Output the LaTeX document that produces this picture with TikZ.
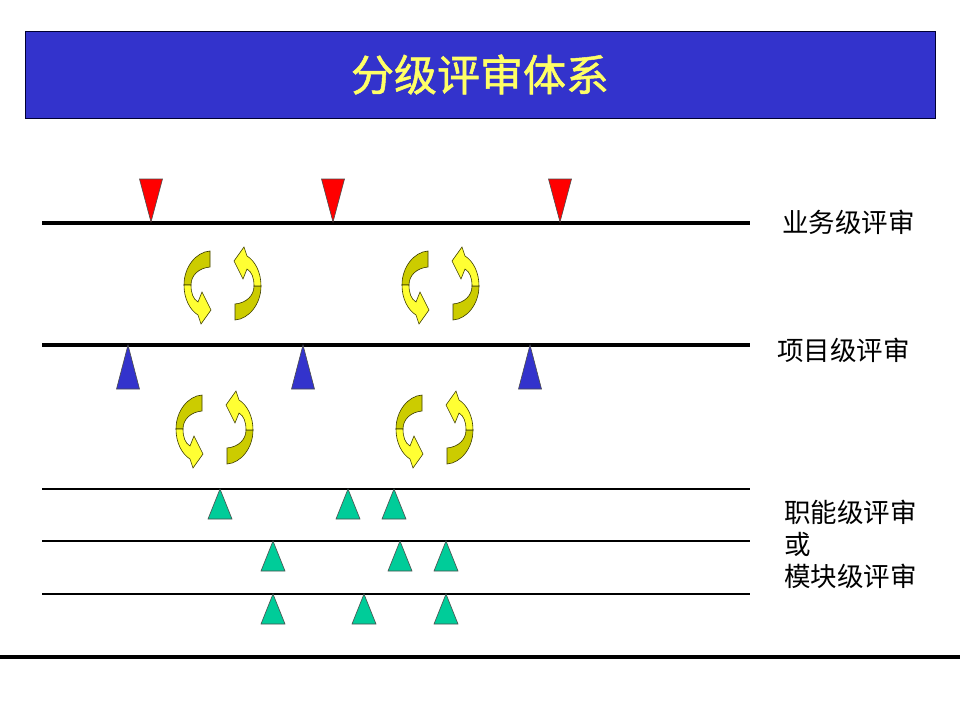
\documentclass[tikz,border=0pt]{standalone}
\usepackage{fontspec}
\setmainfont{Noto Sans CJK SC}
\newfontfamily\titlefont[FakeBold=1.2]{Noto Sans CJK SC}
\definecolor{titleblue}{RGB}{51,51,204}
\definecolor{titleyellow}{RGB}{255,255,102}
\definecolor{markgreen}{RGB}{0,204,153}
\definecolor{turnlight}{RGB}{255,255,51}
\definecolor{turndark}{RGB}{204,204,0}
\definecolor{turnedge}{RGB}{60,60,0}
\tikzset{
  reviewline/.style={line width=4pt},
  subline/.style={line width=1.6pt},
  levellabel/.style={anchor=west, inner sep=0pt, font=\fontsize{26.5}{32}\selectfont, align=left},
  redmark/.pic={\draw[fill=red, draw=black!70, line width=0.6pt] (-11.5,-43) -- (11.5,-43) -- (0,0) -- cycle;},
  bluemark/.pic={\draw[fill=titleblue, draw=black!70, line width=0.6pt] (-11.5,44) -- (11.5,44) -- (0,0) -- cycle;},
  greenmark/.pic={\draw[fill=markgreen, draw=black!70, line width=0.6pt] (-12,30) -- (12,30) -- (0,0) -- cycle;},
  turn/.pic={
    \filldraw[fill=turndark, draw=turnedge, line width=0.6pt] (13,-36) .. controls (-1,-35) and (-13,-20) .. (-13,-2)
      -- (-6,-2) .. controls (-6,-12) and (2,-19) .. (13,-20) -- cycle;
    \filldraw[fill=turnlight, draw=turnedge, line width=0.6pt] (-13,-2) .. controls (-13,12) and (-7,23) .. (1,28)
      -- (4,37) -- (14,23) -- (5,5) -- (1,15) .. controls (-4,12) and (-6,6) .. (-6,-2) -- cycle;
  }
}

\begin{document}
\begin{tikzpicture}[x=1pt,y=-1pt]
  \useasboundingbox (0,0) rectangle (960,720);

  % title bar
  \node[fill=titleblue, draw=black!80!blue, line width=0.8pt, minimum width=910pt, minimum height=87pt,
        inner sep=0pt, text=titleyellow, font=\titlefont\fontsize{43}{48}\selectfont] (title) at (480,74.5) {分级评审体系};

  % review levels
  \draw[reviewline] (42,223) coordinate (bizL) -- (750,223) coordinate (bizR);
  \draw[reviewline] (42,345) coordinate (prjL) -- (750,345) coordinate (prjR);
  \draw[subline] (42,489) coordinate (fn1L) -- (750,489) coordinate (fn1R);
  \draw[subline] (42,541) coordinate (fn2L) -- (750,541) coordinate (fn2R);
  \draw[subline] (42,594) coordinate (fn3L) -- (750,594) coordinate (fn3R);
  \draw[reviewline] (0,657) coordinate (endL) -- (960,657) coordinate (endR);

  \node[levellabel] (bizlabel) at (782,222) {业务级评审};
  \node[levellabel] (prjlabel) at (777,350) {项目级评审};
  \node[levellabel] (fnlabel) at (784,544) {职能级评审\\或\\模块级评审};

  % review points
  \foreach \x in {151,333,560}
    \pic at (\x,222) {redmark};
  \foreach \x in {128,303,530}
    \pic at (\x,345) {bluemark};
  \foreach \x/\y in {220/489,348/489,394/489,273/541,400/541,446/541,273/594,364/594,446/594}
    \pic at (\x,\y) {greenmark};

  % feedback loops
  \foreach \x/\y in {197/287,415/287,189/431,409/431} {
    \pic at (\x,\y) {turn};
    \pic[rotate=180] at (\x+51,\y-3) {turn};
  }
\end{tikzpicture}
\end{document}
